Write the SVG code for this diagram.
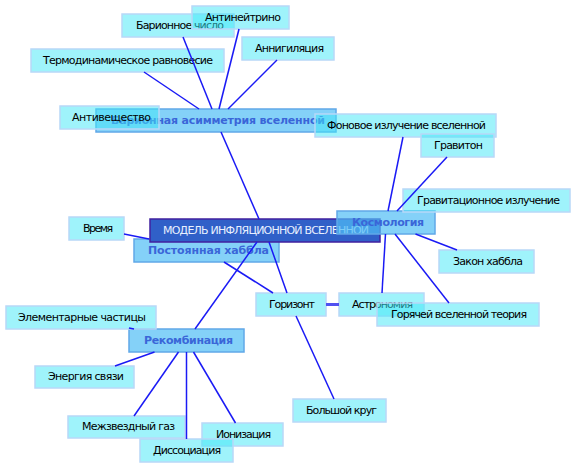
<svg xmlns="http://www.w3.org/2000/svg" width="576" height="468" viewBox="0 0 576 468">
<style>
.leaf rect{fill:#40e8f8;fill-opacity:0.5;stroke:#b8d8f8;stroke-width:1.5}
.leaf text{font-family:"DejaVu Sans",sans-serif;font-size:11px;fill:#000;text-anchor:middle}
.cat rect{fill:#50bef5;fill-opacity:0.7;stroke:#60a8e8;stroke-width:1.5}
.cat text{font-family:"DejaVu Sans",sans-serif;font-size:11px;font-weight:bold;fill:#3a66d8;text-anchor:middle}
.root rect{fill:#3060c8;stroke:#4020a0;stroke-width:1.5}
.root text{font-family:"DejaVu Sans",sans-serif;font-size:11px;fill:#e8f0ff;text-anchor:middle}
.conn line{stroke:#1a1af5;stroke-width:1.5}
</style>
<rect width="576" height="468" fill="#fff"/>

<g id="n-barion-asym" class="cat"><rect x="96" y="109" width="240" height="23"/><text x="218" y="124" textLength="214" lengthAdjust="spacing">Барионная асимметрия вселенной</text></g>
<g id="n-antiveshch" class="leaf"><rect x="60" y="106" width="99" height="23"/><text x="111.5" y="121" textLength="79" lengthAdjust="spacing">Антивещество</text></g>
<g id="n-barion-num" class="leaf"><rect x="122" y="14" width="112" height="23"/><text x="180" y="29" textLength="88" lengthAdjust="spacing">Барионное число</text></g>
<g id="n-antineutrino" class="leaf"><rect x="192" y="6" width="97" height="23"/><text x="243" y="21" textLength="76" lengthAdjust="spacing">Антинейтрино</text></g>
<g id="n-annihil" class="leaf"><rect x="242" y="37" width="92" height="23"/><text x="289.5" y="52" textLength="69" lengthAdjust="spacing">Аннигиляция</text></g>
<g id="n-thermo" class="leaf"><rect x="31" y="49" width="193" height="23"/><text x="128" y="64" textLength="170" lengthAdjust="spacing">Термодинамическое равновесие</text></g>

<g id="n-hubble-const" class="cat"><rect x="134" y="239" width="145" height="23"/><text x="208.5" y="254" textLength="121" lengthAdjust="spacing">Постоянная хаббла</text></g>
<g id="n-root" class="root"><rect x="150" y="219" width="230" height="23"/><text x="266" y="234" textLength="206" lengthAdjust="spacing">МОДЕЛЬ ИНФЛЯЦИОННОЙ ВСЕЛЕННОЙ</text></g>
<g id="n-cosmology" class="cat"><rect x="337" y="211" width="98" height="23"/><text x="388" y="226" textLength="72" lengthAdjust="spacing">Космология</text></g>
<g id="n-fon" class="leaf"><rect x="315" y="114" width="181" height="23"/><text x="406.5" y="129" textLength="159" lengthAdjust="spacing">Фоновое излучение вселенной</text></g>
<g id="n-graviton" class="leaf"><rect x="421" y="134" width="73" height="23"/><text x="458.5" y="149" textLength="49" lengthAdjust="spacing">Гравитон</text></g>
<g id="n-grav-rad" class="leaf"><rect x="403" y="189" width="167" height="23"/><text x="488.5" y="204" textLength="143" lengthAdjust="spacing">Гравитационное излучение</text></g>
<g id="n-hubble-law" class="leaf"><rect x="439" y="250" width="95" height="23"/><text x="488" y="265" textLength="70" lengthAdjust="spacing">Закон хаббла</text></g>
<g id="n-astronomy" class="leaf"><rect x="339" y="293" width="85" height="23"/><text x="382.5" y="308" textLength="61" lengthAdjust="spacing">Астрономия</text></g>
<g id="n-hot" class="leaf"><rect x="377" y="303" width="162" height="23"/><text x="459" y="318" textLength="136" lengthAdjust="spacing">Горячей вселенной теория</text></g>
<g id="n-horizon" class="leaf"><rect x="256" y="293" width="70" height="23"/><text x="292" y="308" textLength="46" lengthAdjust="spacing">Горизонт</text></g>
<g id="n-great-circle" class="leaf"><rect x="293" y="399" width="93" height="23"/><text x="341.5" y="414" textLength="71" lengthAdjust="spacing">Большой круг</text></g>
<g id="n-time" class="leaf"><rect x="69" y="217" width="55" height="23"/><text x="98" y="232" textLength="30" lengthAdjust="spacing">Время</text></g>

<g id="n-recomb" class="cat"><rect x="129" y="329" width="115" height="23"/><text x="188.5" y="344" textLength="89" lengthAdjust="spacing">Рекомбинация</text></g>
<g id="n-elem" class="leaf"><rect x="6" y="306" width="150" height="23"/><text x="82" y="321" textLength="128" lengthAdjust="spacing">Элементарные частицы</text></g>
<g id="n-energy" class="leaf"><rect x="35" y="366" width="99" height="22"/><text x="86" y="380" textLength="76" lengthAdjust="spacing">Энергия связи</text></g>
<g id="n-gas" class="leaf"><rect x="68" y="416" width="117" height="22"/><text x="128.5" y="430" textLength="93" lengthAdjust="spacing">Межзвездный газ</text></g>
<g id="n-ioniz" class="leaf"><rect x="202" y="423" width="81" height="23"/><text x="243.5" y="438" textLength="55" lengthAdjust="spacing">Ионизация</text></g>
<g id="n-dissoc" class="leaf"><rect x="140" y="439" width="93" height="23"/><text x="187" y="454" textLength="68" lengthAdjust="spacing">Диссоциация</text></g>

<g id="connectors" class="conn">
<line x1="212" y1="109" x2="183" y2="37"/>
<line x1="219" y1="109" x2="239" y2="29"/>
<line x1="228" y1="109" x2="277" y2="60"/>
<line x1="199" y1="109" x2="144" y2="72"/>
<line x1="221" y1="132" x2="259" y2="219"/>
<line x1="269" y1="242" x2="287" y2="293"/>
<line x1="149" y1="239" x2="124" y2="234"/>
<line x1="224" y1="262" x2="273" y2="293"/>
<line x1="195" y1="329" x2="257" y2="242"/>
<line x1="129" y1="328" x2="134" y2="329"/>
<line x1="154.5" y1="352" x2="115" y2="366"/>
<line x1="178.5" y1="352" x2="134" y2="416"/>
<line x1="186.5" y1="352" x2="186.5" y2="439"/>
<line x1="193.5" y1="352" x2="235.5" y2="423"/>
<line x1="326" y1="304.5" x2="339" y2="304.5" style="stroke:#5050f0;stroke-width:3"/>
<line x1="296" y1="316" x2="334" y2="399"/>
<line x1="388" y1="211" x2="403" y2="137"/>
<line x1="397" y1="211" x2="447" y2="157"/>
<line x1="415.5" y1="234" x2="457" y2="250"/>
<line x1="395" y1="234" x2="449" y2="303"/>
<line x1="385.5" y1="234" x2="382" y2="293"/>
</g>
</svg>
